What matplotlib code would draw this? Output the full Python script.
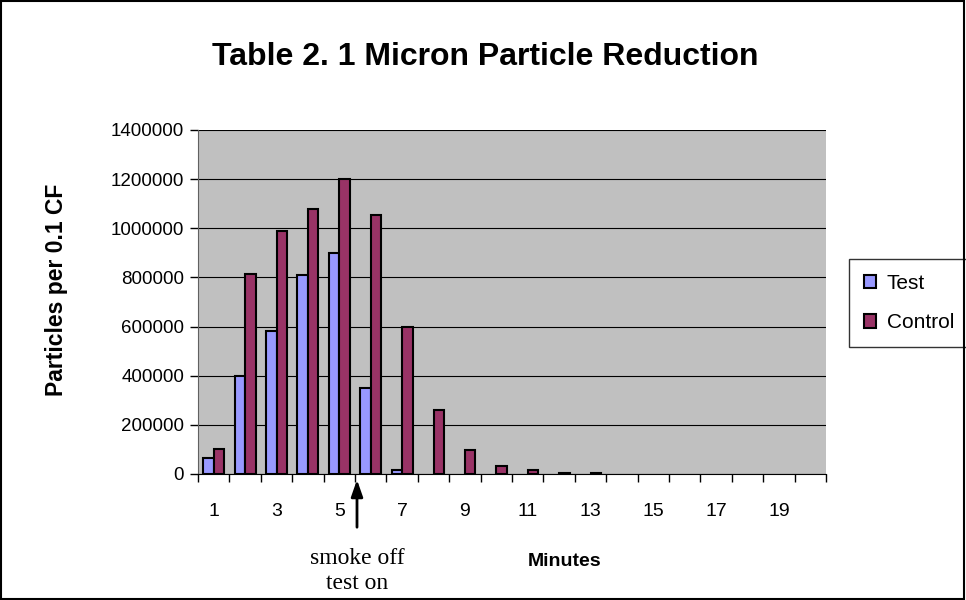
import matplotlib
matplotlib.use("Agg")
import matplotlib.pyplot as plt
import numpy as np
from matplotlib.patches import Rectangle

# 数据
minutes = list(range(1, 21))
test_vals = [65000, 400000, 580000, 810000, 900000, 350000, 17000,
             0, 0, 0, 0, 0, 0, 0, 0, 0, 0, 0, 0, 0]
control_vals = [100000, 815000, 990000, 1080000, 1200000, 1055000, 600000,
                262000, 98000, 33000, 16000, 6000, 6000, 0, 0, 0, 0, 0, 0, 0]
y_ticks = [0, 200000, 400000, 600000, 800000, 1000000, 1200000, 1400000]

plt.rcParams['font.family'] = ['Liberation Sans', 'DejaVu Sans']

fig = plt.figure(figsize=(9.66, 6.0), dpi=100)
ax = fig.add_axes([198 / 966, 1 - 474 / 600, 628 / 966, 344 / 600])
ax.set_facecolor('#C0C0C0')

x = np.arange(len(minutes))
w = 0.335
# 零值不画柱子
test_arr = np.array(test_vals, dtype=float)
control_arr = np.array(control_vals, dtype=float)
test_arr[test_arr == 0] = np.nan
control_arr[control_arr == 0] = np.nan
ax.bar(x - w / 2, test_arr, w, color='#9999FF', edgecolor='black', linewidth=1.5,
       label='Test', zorder=3)
ax.bar(x + w / 2, control_arr, w, color='#993366', edgecolor='black', linewidth=1.5,
       label='Control', zorder=3)

ax.set_xlim(-0.5, len(minutes) - 0.5)
ax.set_ylim(0, 1400000)
ax.set_yticks(y_ticks)
ax.set_yticklabels([str(v) for v in y_ticks])
ax.yaxis.grid(True, color='black', linewidth=0.8, zorder=1)

# x 轴刻度：标签在奇数分钟，刻度线在分类边界
ax.set_xticks(x[::2])
ax.set_xticklabels([str(m) for m in minutes[::2]])
ax.tick_params(axis='x', which='major', length=0, pad=21, labelsize=14)
ax.set_xticks(np.arange(-0.5, len(minutes)), minor=True)
ax.tick_params(axis='x', which='minor', length=6, width=1, color='black')
ax.tick_params(axis='y', length=6, width=1, pad=4, labelsize=13.5)

for s in ['top', 'right']:
    ax.spines[s].set_visible(False)
ax.spines['left'].set_color('#606060')
ax.spines['bottom'].set_color('black')

fig.text(485 / 966, 1 - 65 / 600, 'Table 2. 1 Micron Particle Reduction', fontsize=23,
         fontweight='bold', ha='center', va='baseline')
fig.text(57 / 966, 1 - 290 / 600, 'Particles per 0.1 CF', rotation=90, fontsize=16.5,
         fontweight='bold', ha='center', va='center')
fig.text(565 / 966, 1 - 562 / 600, 'Minutes', fontsize=14, fontweight='bold',
         ha='center', va='center')

# 注释箭头
ax.annotate('', xy=(357 / 966, 1 - 477 / 600), xycoords='figure fraction',
            xytext=(357 / 966, 1 - 530 / 600), textcoords='figure fraction',
            arrowprops=dict(arrowstyle='-|>,head_width=0.35,head_length=1.0',
                            color='black', lw=2))
fig.text(357 / 966, 1 - 571 / 600, 'smoke off\ntest on', family=['Liberation Serif'],
         fontsize=17, ha='center', va='center', linespacing=1.2)

leg = ax.legend(loc='upper left', bbox_to_anchor=(849 / 966, 1 - 259 / 600),
                bbox_transform=fig.transFigure, fontsize=15, frameon=True,
                fancybox=False, handlelength=0.6, handleheight=0.6,
                handletextpad=0.5, borderpad=0.7, labelspacing=1.0, borderaxespad=0)
leg.get_frame().set_edgecolor('black')
leg.get_frame().set_linewidth(1)

fig.patches.append(Rectangle((0.001, 0.001), 0.997, 0.997, transform=fig.transFigure,
                             fill=False, edgecolor='black', linewidth=1.5))

fig.savefig('out.png', dpi=100)
